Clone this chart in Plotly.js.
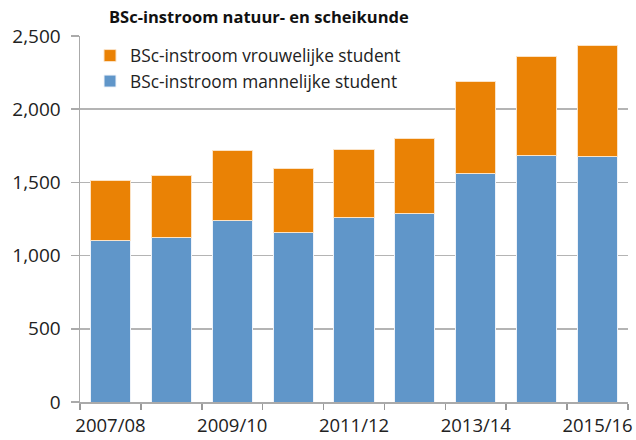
<!DOCTYPE html>
<html>
<head>
<meta charset="utf-8">
<script src="https://cdn.plot.ly/plotly-3.0.1.min.js"></script>
<style>html,body{margin:0;padding:0;background:#fff;}#chart{width:636px;height:440px;}</style>
</head>
<body>
<div id="chart"></div>
<script>
const categories = ["2007/08","2008/09","2009/10","2010/11","2011/12","2012/13","2013/14","2014/15","2015/16"];
const tickLabels = ["2007/08","","2009/10","","2011/12","","2013/14","","2015/16"];
const maleValues = [1105, 1125, 1243, 1159, 1259, 1286, 1561, 1686, 1679];
const femaleValues = [410, 425, 472, 436, 466, 511, 627, 677, 755];
const maleName = "BSc-instroom mannelijke student";
const femaleName = "BSc-instroom vrouwelijke student";
const titleText = "BSc-instroom natuur- en scheikunde";

const font = "Open Sans, sans-serif";
const data = [
  {type:"bar", x:categories, y:maleValues, name:maleName,
   marker:{color:"#6096C9", line:{color:"#eef3fa", width:1}}},
  {type:"bar", x:categories, y:femaleValues, name:femaleName,
   marker:{color:"#EA8205", line:{color:"#fbe3c6", width:1}}}
];
const layout = {
  width:636, height:440,
  margin:{l:80, r:8, t:36, b:38},
  paper_bgcolor:"#fff", plot_bgcolor:"#fff",
  barmode:"stack", bargap:0.34,
  font:{family:font, color:"#222"},
  title:{text:"<b>"+titleText+"</b>", font:{family:font, size:16.5, color:"#111"},
         x:109/636, xanchor:"left", xref:"container", y:1-17/440, yanchor:"middle", yref:"container"},
  showlegend:true,
  legend:{x:10/548, y:0.995, xanchor:"left", yanchor:"top", traceorder:"reversed",
          font:{family:font, size:17.3, color:"#222"}, bgcolor:"rgba(0,0,0,0)", tracegroupgap:0, itemwidth:30},
  xaxis:{type:"category", tickvals:categories, ticktext:tickLabels, tickson:"boundaries",
         ticks:"outside", ticklen:6, tickcolor:"#999", tickwidth:1.5, tickangle:0,
         showline:true, linecolor:"#aaa", linewidth:1.5, showgrid:false,
         tickfont:{family:font, size:18.5, color:"#222"}, ticklabelstandoff:6, fixedrange:true},
  yaxis:{range:[0,2500], tickvals:[0,500,1000,1500,2000,2500], tickformat:",d",
         ticks:"outside", ticklen:8, tickcolor:"#aaa", tickwidth:1.5,
         showline:true, linecolor:"#aaa", linewidth:1.5,
         showgrid:true, gridcolor:"#b4b4b4", gridwidth:1.5, zeroline:false,
         tickfont:{family:font, size:19, color:"#222"}, ticklabelstandoff:6, fixedrange:true}
};
Plotly.newPlot("chart", data, layout, {displayModeBar:false, staticPlot:true});
</script>
</body>
</html>
